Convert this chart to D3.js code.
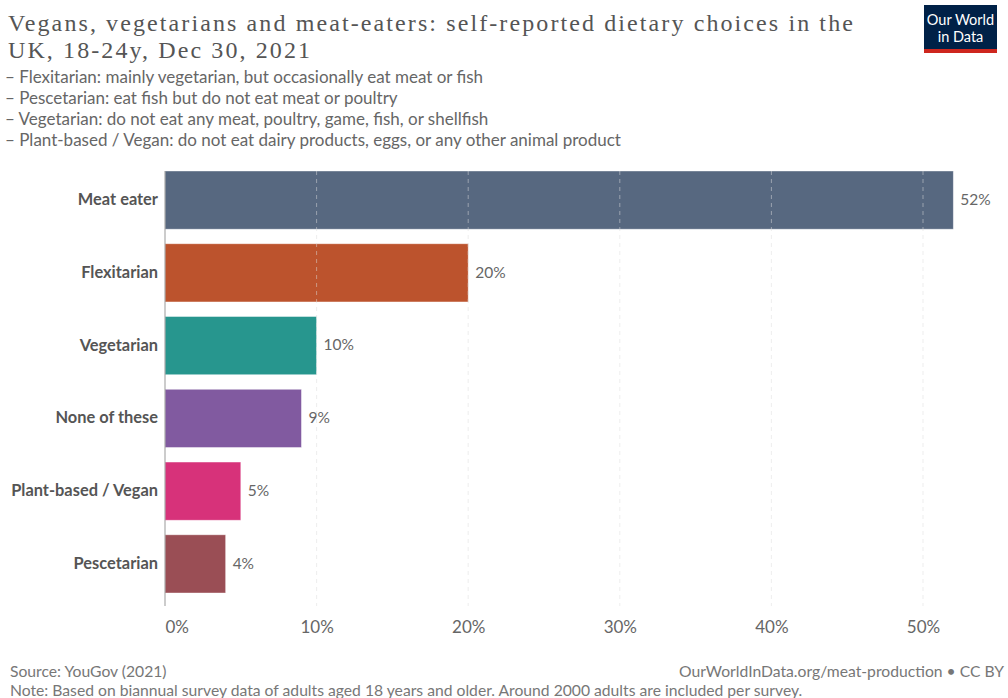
<!DOCTYPE html>
<head>
  <meta charset="utf-8">
  <script src="https://d3js.org/d3.v7.min.js"></script>
  <style>
    body { margin:0; background:#fff; }
    text { font-family: Lato, "Noto Sans", sans-serif; }
    .grid line { stroke:#ddd; stroke-dasharray:4,4; }
  </style>
</head>
<body>
<script>
  var categories = ["Meat eater", "Flexitarian", "Vegetarian", "None of these", "Plant-based / Vegan", "Pescetarian"];
  var values = [52, 20, 10, 9, 5, 4];
  var colors = ["#576880", "#bc532d", "#27968e", "#815aa0", "#d7327a", "#9a4e55"];
  var xTicks = [0, 10, 20, 30, 40, 50];
  var titleLines = [
    "Vegans, vegetarians and meat-eaters: self-reported dietary choices in the",
    "UK, 18-24y, Dec 30, 2021"
  ];
  var subtitleLines = [
    "– Flexitarian: mainly vegetarian, but occasionally eat meat or fish",
    "– Pescetarian: eat fish but do not eat meat or poultry",
    "– Vegetarian: do not eat any meat, poultry, game, fish, or shellfish",
    "– Plant-based / Vegan: do not eat dairy products, eggs, or any other animal product"
  ];

  var W = 1008, H = 698;
  var svg = d3.select("body").append("svg")
    .attr("width", W)
    .attr("height", H);

  // title
  svg.selectAll(".title")
    .data(titleLines)
    .enter().append("text")
    .attr("class", "title")
    .attr("x", 8)
    .attr("y", function(d, i) { return 31 + i * 27; })
    .style("font-family", "'Liberation Serif', serif")
    .style("font-size", "24px")
    .style("letter-spacing", "2.1px")
    .attr("fill", "#555")
    .text(function(d) { return d; });

  svg.selectAll(".sub")
    .data(subtitleLines)
    .enter().append("text")
    .attr("class", "sub")
    .attr("x", 5)
    .attr("y", function(d, i) { return 83 + i * 21; })
    .style("font-size", "17px")
    .attr("fill", "#666")
    .text(function(d) { return d; });

  // logo
  var logo = svg.append("g").attr("transform", "translate(924,5)");
  logo.append("rect").attr("width", 73).attr("height", 47).attr("fill", "#002147");
  logo.append("rect").attr("y", 44).attr("width", 73).attr("height", 4).attr("fill", "#ce261e");
  logo.append("text").attr("x", 36.5).attr("y", 20).attr("text-anchor", "middle")
    .attr("fill", "#fff").style("font-size", "14.5px").text("Our World");
  logo.append("text").attr("x", 36.5).attr("y", 37).attr("text-anchor", "middle")
    .attr("fill", "#fff").style("font-size", "14.5px").text("in Data");

  // chart
  var x = d3.scaleLinear().domain([0, 50]).range([165, 923]);
  var y = d3.scaleBand().domain(categories).range([171, 593]).paddingInner(0.2).paddingOuter(0);

  svg.selectAll(".bar")
    .data(values)
    .enter().append("rect")
    .attr("class", "bar")
    .attr("x", x(0))
    .attr("y", function(d, i) { return y(categories[i]); })
    .attr("width", function(d) { return x(d) - x(0); })
    .attr("height", y.bandwidth())
    .attr("fill", function(d, i) { return colors[i]; })
    .attr("stroke", "rgba(255,255,255,0.5)")
    .attr("stroke-width", 0.8);

  var grid = svg.append("g").attr("class", "grid");
  grid.selectAll("line")
    .data(xTicks.slice(1))
    .enter().append("line")
    .attr("x1", function(d) { return x(d); })
    .attr("x2", function(d) { return x(d); })
    .attr("y1", 171).attr("y2", 606)
    .attr("stroke-opacity", 0.5);

  svg.append("line")
    .attr("x1", x(0)).attr("x2", x(0))
    .attr("y1", 171).attr("y2", 606)
    .attr("stroke", "#999").attr("stroke-width", 1);

  var xAxis = svg.append("g")
    .attr("transform", "translate(0,633)")
    .call(d3.axisBottom(x).tickValues(xTicks).tickSize(0).tickFormat(function(d) { return d + "%"; }));
  xAxis.select(".domain").remove();
  xAxis.selectAll("text")
    .attr("dy", 0)
    .attr("y", 0)
    .style("font-size", "17px")
    .style("font-family", "Lato, sans-serif")
    .attr("fill", "#666");
  // first label sits to the right of the axis line
  xAxis.selectAll(".tick text").filter(function(d) { return d === 0; })
    .attr("text-anchor", "start");

  svg.selectAll(".cat")
    .data(categories)
    .enter().append("text")
    .attr("class", "cat")
    .attr("x", 158)
    .attr("y", function(d) { return y(d) + y.bandwidth() / 2; })
    .attr("dy", "0.3em")
    .attr("text-anchor", "end")
    .style("font-size", "16.4px")
    .style("font-weight", "bold")
    .attr("fill", "#555")
    .text(function(d) { return d; });

  svg.selectAll(".val")
    .data(values)
    .enter().append("text")
    .attr("class", "val")
    .attr("x", function(d) { return x(d) + 7; })
    .attr("y", function(d, i) { return y(categories[i]) + y.bandwidth() / 2; })
    .attr("dy", "0.3em")
    .style("font-size", "15.5px")
    .attr("fill", "#666")
    .text(function(d) { return d + "%"; });

  // footer
  svg.append("text").attr("x", 10).attr("y", 677)
    .style("font-size", "15.7px").attr("fill", "#777")
    .text("Source: YouGov (2021)");
  svg.append("text").attr("x", 1004).attr("y", 677).attr("text-anchor", "end")
    .style("font-size", "15.7px").attr("fill", "#777")
    .text("OurWorldInData.org/meat-production • CC BY");
  svg.append("text").attr("x", 10).attr("y", 696)
    .style("font-size", "15.7px").attr("fill", "#777")
    .text("Note: Based on biannual survey data of adults aged 18 years and older. Around 2000 adults are included per survey.");
</script>
</body>
